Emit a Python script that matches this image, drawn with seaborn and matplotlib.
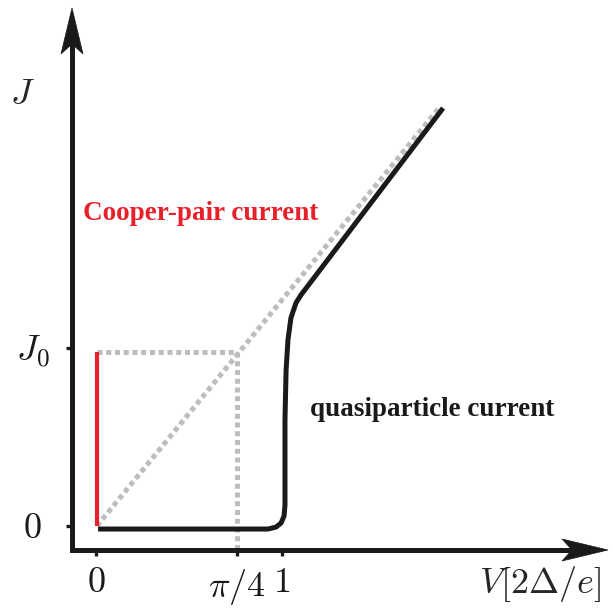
import numpy as np
import pandas as pd
import matplotlib
matplotlib.use("Agg")
import matplotlib.pyplot as plt
from matplotlib.patches import Polygon
import seaborn as sns

# ---- data ----
qp_v = [0.011, 0.925, 0.968, 0.995, 1.011, 1.016, 1.016, 1.022, 1.032, 1.048, 1.075, 1.102, 1.866]
qp_j = [-0.017, -0.017, -0.006, 0.017, 0.056, 0.118, 0.596, 0.876, 1.045, 1.169, 1.253, 1.298, 2.348]
ohm_v = [0.005, 1.849]
ohm_j = [0.0, 2.354]
cp_v = [0.005, 0.005]
cp_j = [0.0, 0.975]
pi4 = 0.758
j_level = 0.975
xtick_vals = [0.0, pi4, 1.0]
xtick_labels = [r'$0$', r'$\pi/4$', r'$1$']
ytick_vals = [0.0, 1.0]
ytick_labels = [r'$0$', r'$J_0$']

sns.set_theme(style="white")
plt.rcParams['font.family'] = ['Liberation Serif', 'DejaVu Serif']
plt.rcParams['mathtext.fontset'] = 'cm'

W, H = 613, 608
fig = plt.figure(figsize=(W / 100, H / 100), dpi=100)
ax_l, ax_r, ax_b, ax_t = 72, 608, 550, 8   # pixel box of the axes
L, R, B, T = ax_l / W, ax_r / W, (H - ax_b) / H, (H - ax_t) / H
ax = fig.add_axes([L, B, R - L, T - B])
ax.set_xlim((ax_l - 96) / 186, (ax_r - 96) / 186)
ax.set_ylim((526 - ax_b) / 178, (526 - ax_t) / 178)
for s in ax.spines.values():
    s.set_visible(False)

gray = '#bdbdbd'
dot = (0, (1, 0.75))
qp = pd.DataFrame({'V': qp_v, 'J': qp_j})
ohm = pd.DataFrame({'V': ohm_v, 'J': ohm_j})
cp = pd.DataFrame({'V': cp_v, 'J': cp_j})

sns.lineplot(data=ohm, x='V', y='J', ax=ax, color=gray, lw=3.6, linestyle=dot,
             sort=False, estimator=None, zorder=2)
ax.plot([cp_v[0], pi4], [j_level, j_level], color=gray, lw=3.6, linestyle=dot, zorder=2)
ax.plot([pi4, pi4], [j_level, ax.get_ylim()[0]], color=gray, lw=3.6, linestyle=dot, zorder=2)
sns.lineplot(data=cp, x='V', y='J', ax=ax, color='#e8202a', lw=3.0,
             sort=False, estimator=None, zorder=3)
sns.lineplot(data=qp, x='V', y='J', ax=ax, color='#1a1a1a', lw=3.6,
             sort=False, estimator=None, zorder=4)
for ln in ax.lines:
    ln.set_dash_capstyle('butt')
    ln.set_solid_capstyle('butt')

# axes with concave arrowheads
aw, ah = ax_r - ax_l, ax_b - ax_t
k = '#1a1a1a'
ax.plot([0, 0], [0, 1 - 35 / ah], transform=ax.transAxes, color=k, lw=3.6,
        solid_capstyle='projecting', clip_on=False, zorder=5)
ax.plot([0, 1 - 35 / aw], [0, 0], transform=ax.transAxes, color=k, lw=3.6,
        solid_capstyle='projecting', clip_on=False, zorder=5)
up = Polygon([(0, 1), (11 / aw, 1 - 46 / ah), (0, 1 - 36 / ah), (-11 / aw, 1 - 46 / ah)],
             closed=True, transform=ax.transAxes, facecolor=k, edgecolor=k, lw=0.5,
             clip_on=False, zorder=6)
rt = Polygon([(1, 0), (1 - 46 / aw, 11 / ah), (1 - 36 / aw, 0), (1 - 46 / aw, -11 / ah)],
             closed=True, transform=ax.transAxes, facecolor=k, edgecolor=k, lw=0.5,
             clip_on=False, zorder=6)
ax.add_patch(up)
ax.add_patch(rt)

ax.set_xticks(xtick_vals, xtick_labels)
ax.set_yticks(ytick_vals, ytick_labels)
ax.tick_params(axis='both', direction='out', length=4.3, width=2.4, color=k,
               labelsize=26, labelcolor=k)
ax.tick_params(axis='x', pad=8, bottom=True)
ax.tick_params(axis='y', pad=24, left=True)
for lab in ax.get_yticklabels():
    lab.set_horizontalalignment('center')
ax.set_xlabel('')
ax.set_ylabel('')

fig.text(22 / W, 1 - 96 / H, r'$J$', fontsize=26, ha='center', va='center')
fig.text(540 / W, 1 - 584 / H, r'$V[2\Delta/e]$', fontsize=26, ha='center', va='center')

ax.text(0.565, 1.753, 'Cooper-pair current', color='#e8202a', fontsize=19.5,
        fontweight='bold', ha='center', va='center')
ax.text(1.806, 0.652, 'quasiparticle current', color=k, fontsize=19.5,
        fontweight='bold', ha='center', va='center')

fig.savefig('out.png', dpi=100)
